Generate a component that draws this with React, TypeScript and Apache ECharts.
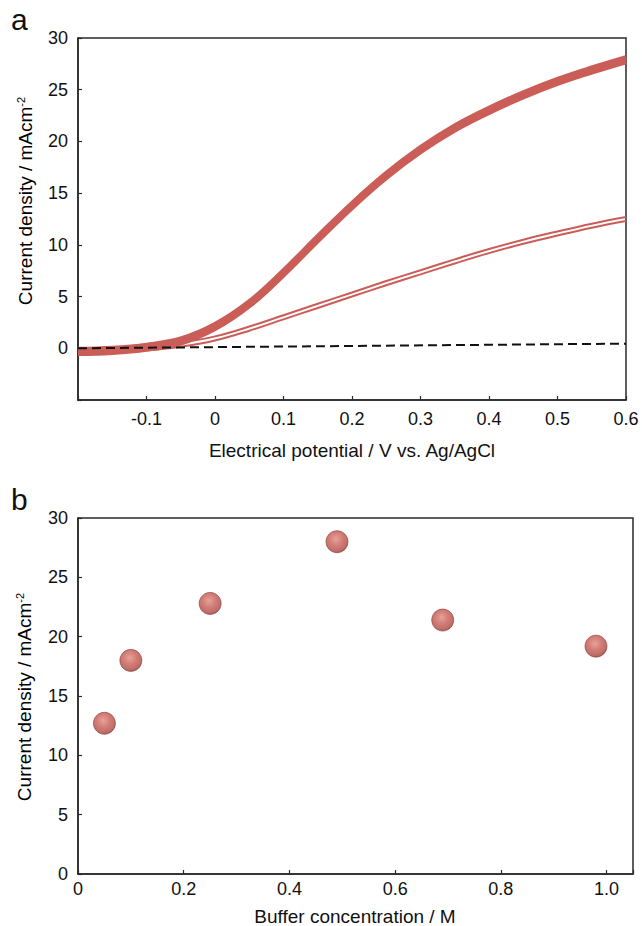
import React, { useEffect, useRef } from "react";
import * as echarts from "echarts";

// ---- Panel a: linear sweep voltammograms ----
const potential = [-0.2, -0.15, -0.1, -0.05, 0, 0.05, 0.1, 0.15, 0.2, 0.25, 0.3, 0.35, 0.4, 0.45, 0.5, 0.55, 0.6];
const bandForward = [-0.1, 0.0, 0.3, 0.9, 2.3, 4.5, 7.5, 10.8, 14.0, 16.9, 19.4, 21.5, 23.2, 24.7, 26.0, 27.1, 28.1];
const bandReverse = [-0.5, -0.4, -0.1, 0.5, 1.9, 4.1, 7.1, 10.4, 13.6, 16.5, 19.0, 21.1, 22.8, 24.3, 25.6, 26.7, 27.7];
const thinUpper = [-0.1, 0.0, 0.2, 0.55, 1.15, 2.1, 3.2, 4.3, 5.4, 6.5, 7.55, 8.6, 9.6, 10.5, 11.3, 12.05, 12.7];
const thinLower = [-0.5, -0.4, -0.2, 0.15, 0.75, 1.7, 2.8, 3.9, 5.0, 6.1, 7.15, 8.2, 9.2, 10.1, 10.9, 11.65, 12.3];
const baselineX = [-0.2, 0.6];
const baselineY = [0, 0.45];

// ---- Panel b: current density vs buffer concentration ----
const bufferConc = [0.05, 0.1, 0.25, 0.49, 0.69, 0.98];
const bufferCurrent = [12.7, 18.0, 22.8, 28.0, 21.4, 19.2];

const FONT = "'Liberation Sans', Arial, Helvetica, sans-serif";
const RED = "#cb5d58";
const AXIS = "#2a2a2a";

const zip = (xs: number[], ys: number[]) => xs.map((x, i) => [x, ys[i]]);

export default function App() {
  const ref = useRef<HTMLDivElement>(null);
  useEffect(() => {
    if (!ref.current) return;
    const chart = echarts.init(ref.current, null, { renderer: "svg" });
    const axisCommon = {
      axisLine: { show: true, onZero: false, lineStyle: { color: AXIS, width: 1.5 } },
      axisTick: { show: true, inside: true, length: 4, lineStyle: { color: AXIS, width: 1.2 } },
      splitLine: { show: false },
    };
    const labelCommon = { color: "#111", fontSize: 18, fontFamily: FONT };
    const lineSeries = (data: number[][], width: number) => ({
      type: "line",
      xAxisIndex: 0,
      yAxisIndex: 0,
      data,
      smooth: 0.4,
      symbol: "none",
      lineStyle: { color: RED, width },
      z: 2,
    });
    const sup = {
      a: { fontSize: 19, fontFamily: FONT, color: "#111" },
      s: { fontSize: 11, fontFamily: FONT, color: "#111", verticalAlign: "top" },
    };
    chart.setOption({
      animation: false,
      backgroundColor: "#ffffff",
      grid: [
        { left: 78, top: 38, width: 548, height: 362, show: true, borderColor: AXIS, borderWidth: 1.5 },
        { left: 78, top: 518, width: 555, height: 356, show: true, borderColor: AXIS, borderWidth: 1.5 },
      ],
      xAxis: [
        {
          type: "value",
          gridIndex: 0,
          min: -0.2,
          max: 0.6,
          interval: 0.1,
          ...axisCommon,
          axisLabel: {
            ...labelCommon,
            margin: 10,
            formatter: (v: number) => (v < -0.15 ? "" : String(Math.round(v * 10) / 10)),
          },
        },
        {
          type: "value",
          gridIndex: 1,
          min: 0,
          max: 1.05,
          interval: 0.2,
          ...axisCommon,
          axisLabel: {
            ...labelCommon,
            margin: 6,
            formatter: (v: number) => {
              const r = Math.round(v * 10) / 10;
              if (Math.abs(v - r) > 1e-6) return "";
              if (r === 0) return "0";
              return r.toFixed(1);
            },
          },
        },
      ],
      yAxis: [
        {
          type: "value",
          gridIndex: 0,
          min: -5,
          max: 30,
          interval: 5,
          ...axisCommon,
          axisLabel: { ...labelCommon, margin: 10, formatter: (v: number) => (v < 0 ? "" : String(v)) },
        },
        {
          type: "value",
          gridIndex: 1,
          min: 0,
          max: 30,
          interval: 5,
          ...axisCommon,
          axisLabel: { ...labelCommon, margin: 10 },
        },
      ],
      series: [
        lineSeries(zip(potential, bandForward), 5),
        lineSeries(zip(potential, bandReverse), 5),
        lineSeries(zip(potential, thinUpper), 2),
        lineSeries(zip(potential, thinLower), 2),
        {
          type: "line",
          xAxisIndex: 0,
          yAxisIndex: 0,
          data: zip(baselineX, baselineY),
          symbol: "none",
          lineStyle: { color: "#111", width: 2, type: [9, 5] },
          z: 3,
        },
        {
          type: "scatter",
          xAxisIndex: 1,
          yAxisIndex: 1,
          data: zip(bufferConc, bufferCurrent),
          symbolSize: 22,
          itemStyle: {
            color: new echarts.graphic.RadialGradient(0.45, 0.38, 0.62, [
              { offset: 0, color: "#e08a82" },
              { offset: 0.5, color: "#c75b54" },
              { offset: 0.85, color: "#b04a44" },
              { offset: 1, color: "#8a3733" },
            ]),
            borderColor: "#8a3a36",
            borderWidth: 0.8,
          },
        },
      ],
      graphic: [
        { type: "text", left: 11, top: 4, style: { text: "a", fontSize: 30, fontFamily: FONT, fill: "#111" } },
        { type: "text", left: 11, top: 484, style: { text: "b", fontSize: 30, fontFamily: FONT, fill: "#111" } },
        {
          type: "text",
          x: 352,
          y: 450,
          style: {
            text: "Electrical potential / V vs. Ag/AgCl",
            fontSize: 19,
            fontFamily: FONT,
            fill: "#111",
            align: "center",
            verticalAlign: "middle",
          },
        },
        {
          type: "text",
          x: 355,
          y: 916,
          style: {
            text: "Buffer concentration / M",
            fontSize: 19,
            lineHeight: 18,
            fontFamily: FONT,
            fill: "#111",
            align: "center",
            verticalAlign: "middle",
          },
        },
        {
          type: "text",
          x: 25,
          y: 201,
          rotation: Math.PI / 2,
          style: {
            text: "{a|Current density / mAcm}{s|-2}",
            rich: sup,
            align: "center",
            verticalAlign: "middle",
          },
        },
        {
          type: "text",
          x: 24,
          y: 697,
          rotation: Math.PI / 2,
          style: {
            text: "{a|Current density / mAcm}{s|-2}",
            rich: sup,
            align: "center",
            verticalAlign: "middle",
          },
        },
      ],
    });
    return () => chart.dispose();
  }, []);
  return (
    <div
      ref={ref}
      style={{ position: "absolute", left: 0, top: 0, width: 642, height: 926, background: "#fff" }}
    />
  );
}
